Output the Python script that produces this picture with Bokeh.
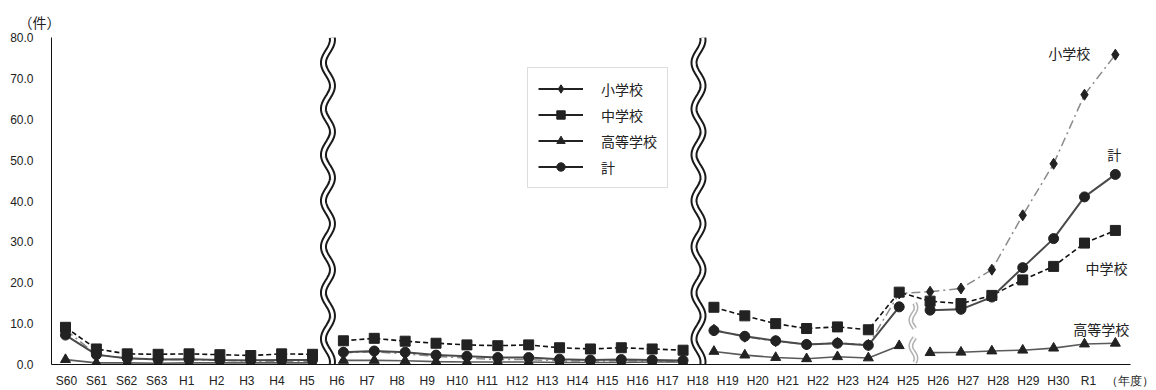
import numpy as np
from bokeh.plotting import figure
from bokeh.models import (Range1d, LinearAxis, FixedTicker, NumeralTickFormatter,
                          Label, Legend, LegendItem)
from bokeh.embed import file_html
from bokeh.resources import INLINE

# ---------------- data ----------------
years = ["S60", "S61", "S62", "S63", "H1", "H2", "H3", "H4", "H5",
         "H6", "H7", "H8", "H9", "H10", "H11", "H12", "H13", "H14", "H15", "H16", "H17",
         "H18", "H19", "H20", "H21", "H22", "H23", "H24", "H25", "H26", "H27", "H28",
         "H29", "H30", "R1"]
elementary = [8.5, 2.4, 1.5, 1.2, 1.2, 1.0, 0.8, 0.8, 0.7,
              2.9, 3.1, 2.6, 2.0, 1.6, 1.2, 1.2, 0.9, 0.8, 0.9, 0.8, 0.7,
              8.5, 6.8, 5.7, 4.9, 5.3, 4.8, 17.4, 17.8, 18.6, 23.2, 36.5, 49.1, 66.0, 75.8]
junior_high = [9.1, 3.8, 2.6, 2.5, 2.6, 2.4, 2.2, 2.6, 2.5,
               5.8, 6.4, 5.7, 5.2, 4.8, 4.6, 4.8, 4.1, 3.8, 4.1, 3.8, 3.5,
               14.0, 11.9, 10.0, 8.8, 9.2, 8.5, 17.7, 15.5, 14.9, 16.9, 20.7, 24.0, 29.7, 32.8]
high_school = [1.2, 0.4, 0.4, 0.3, 0.4, 0.4, 0.4, 0.4, 0.4,
               1.0, 1.0, 0.9, 0.7, 0.6, 0.6, 0.6, 0.5, 0.5, 0.5, 0.6, 0.6,
               3.2, 2.3, 1.7, 1.4, 1.9, 1.6, 4.6, 2.9, 3.0, 3.3, 3.5, 4.0, 5.0, 5.2]
total = [7.2, 2.4, 1.5, 1.2, 1.3, 1.1, 1.0, 1.1, 1.1,
         3.0, 3.3, 3.0, 2.3, 2.0, 1.7, 1.7, 1.3, 1.1, 1.2, 1.1, 1.0,
         8.3, 6.9, 5.8, 4.9, 5.2, 4.7, 14.1, 13.3, 13.5, 16.5, 23.7, 30.8, 41.0, 46.5]
y_ticks = [0, 10, 20, 30, 40, 50, 60, 70, 80]
unit_y = "（件）"
unit_x = "（年度）"

# series breaks (survey definition changes)
breaks_all = [(0, 9), (9, 21), (21, 35)]
breaks_split = [(0, 9), (9, 21), (21, 28), (28, 35)]

idx = np.arange(len(years))

# ---------------- figure ----------------
X0, X1 = -0.453, 34.49
p = figure(width=1156, height=390, output_backend="svg", toolbar_location=None,
           x_range=Range1d(X0, X1), y_range=Range1d(0, 80),
           x_axis_location=None, min_border_left=51, min_border_right=26,
           min_border_top=37, min_border_bottom=26)
p.outline_line_color = None
p.xgrid.visible = False
p.ygrid.visible = False
p.background_fill_color = "white"

# unit of the y axis as the (left-shifted) title
p.title.text = unit_y
p.title.align = "left"
p.title.offset = -33
p.title.text_font = "Noto Sans CJK JP"
p.title.text_font_size = "14px"
p.title.text_font_style = "normal"
p.title.text_color = "#222222"
p.title.standoff = 12

# y axis
ya = p.yaxis[0]
ya.ticker = FixedTicker(ticks=y_ticks)
ya.formatter = NumeralTickFormatter(format="0.0")
ya.major_tick_out = 0
ya.major_tick_in = 0
ya.minor_tick_out = 0
ya.minor_tick_in = 0
ya.major_label_standoff = 18
ya.axis_line_color = "#111111"
ya.major_label_text_font = "Liberation Sans"
ya.major_label_text_font_size = "12px"
ya.major_label_text_color = "#222222"

# x axis: labels on a slightly compressed scale, like the original
p.extra_x_ranges = {"lab": Range1d(-0.499, 35.40)}
overrides = {i: y for i, y in enumerate(years)}
overrides[35.38] = unit_x
xa = LinearAxis(x_range_name="lab",
                ticker=FixedTicker(ticks=list(range(len(years))) + [35.38]),
                major_label_overrides=overrides)
xa.major_tick_out = 0
xa.major_tick_in = 0
xa.minor_tick_out = 0
xa.minor_tick_in = 0
xa.major_label_standoff = 9
xa.axis_line_color = "#111111"
xa.major_label_text_font = "Liberation Sans"
xa.major_label_text_font_size = "12px"
xa.major_label_text_color = "#222222"
p.add_layout(xa, "below")

mk = "#222222"
styles = {
    "elem": dict(color="#8a8a8a", width=1.5, dash="9 4 2 4"),
    "jh": dict(color="#111111", width=1.6, dash="5 3"),
    "hs": dict(color="#5a5a5a", width=1.6, dash="solid"),
    "tot": dict(color="#4a4a4a", width=2.0, dash="solid"),
}

def draw(vals, segs, st):
    vals = np.array(vals)
    for a, b in segs:
        p.line(idx[a:b], vals[a:b], line_color=st["color"], line_width=st["width"],
               line_dash=st["dash"])

draw(elementary, breaks_all, styles["elem"])
draw(junior_high, breaks_all, styles["jh"])
draw(high_school, breaks_split, styles["hs"])
draw(total, breaks_split, styles["tot"])

p.scatter(idx, elementary, marker="diamond", size=11, fill_color=mk, line_color=mk)
p.scatter(idx, junior_high, marker="square", size=10, fill_color=mk, line_color=mk)
p.scatter(idx, high_school, marker="triangle", size=10, fill_color=mk, line_color=mk)
p.scatter(idx, total, marker="circle", size=10, fill_color=mk, line_color=mk)

# ---------------- wavy break marks ----------------
PX_X = 1079 / (X1 - X0)
PX_Y = 327 / 80.0

def wave(x0, y0, y1, amp_px, period_px, phase=0.0):
    yy = np.linspace(y0, y1, 300)
    xx = x0 + amp_px / PX_X * np.sin(2 * np.pi * yy * PX_Y / period_px + phase)
    return xx, yy

for xc in (8.5, 20.5):
    xx, yy = wave(xc, 0, 80, 4.5, 46, 1.2)
    p.line(xx, yy, line_color="#1a1a1a", line_width=7)
    p.line(xx, yy, line_color="white", line_width=3)

for (ya0, ya1) in ((8.8, 15.0), (0.5, 6.6)):
    xx, yy = wave(27.46, ya0, ya1, 2.5, (ya1 - ya0) * PX_Y, 0.0)
    p.line(xx, yy, line_color="#b0b0b0", line_width=5)
    p.line(xx, yy, line_color="white", line_width=2)

# ---------------- series labels ----------------
def lab(x, y, t, size="14px"):
    p.add_layout(Label(x=x, y=y, text=t, text_font="Noto Sans CJK JP", text_font_size=size,
                       text_color="#222222", text_baseline="middle", text_align="left"))

lab(31.83, 76.3, "小学校")
lab(33.74, 51.4, "計")
lab(33.03, 23.7, "中学校")
lab(32.64, 8.8, "高等学校")

# ---------------- legend ----------------
leg_items = []
for name, mkr, sz in (("小学校", "diamond", 9), ("中学校", "square", 8),
                      ("高等学校", "triangle", 7), ("計", "circle", 8)):
    r1 = p.line([np.nan], [np.nan], line_color="#222222", line_width=2)
    r2 = p.scatter([np.nan], [np.nan], marker=mkr, size=sz, fill_color=mk, line_color=mk)
    leg_items.append(LegendItem(label=name, renderers=[r1, r2]))

legend = Legend(items=leg_items, location=(476, 176), orientation="vertical",
                padding=10, spacing=5, label_height=21, glyph_height=21, glyph_width=45,
                label_standoff=18, margin=0, border_line_color="#bbbbbb",
                border_line_width=1, background_fill_color="white",
                background_fill_alpha=1.0, label_text_font="Noto Sans CJK JP",
                label_text_font_size="14px", label_text_color="#222222")
p.add_layout(legend, "center")

open("out.html", "w").write(file_html(p, INLINE))
